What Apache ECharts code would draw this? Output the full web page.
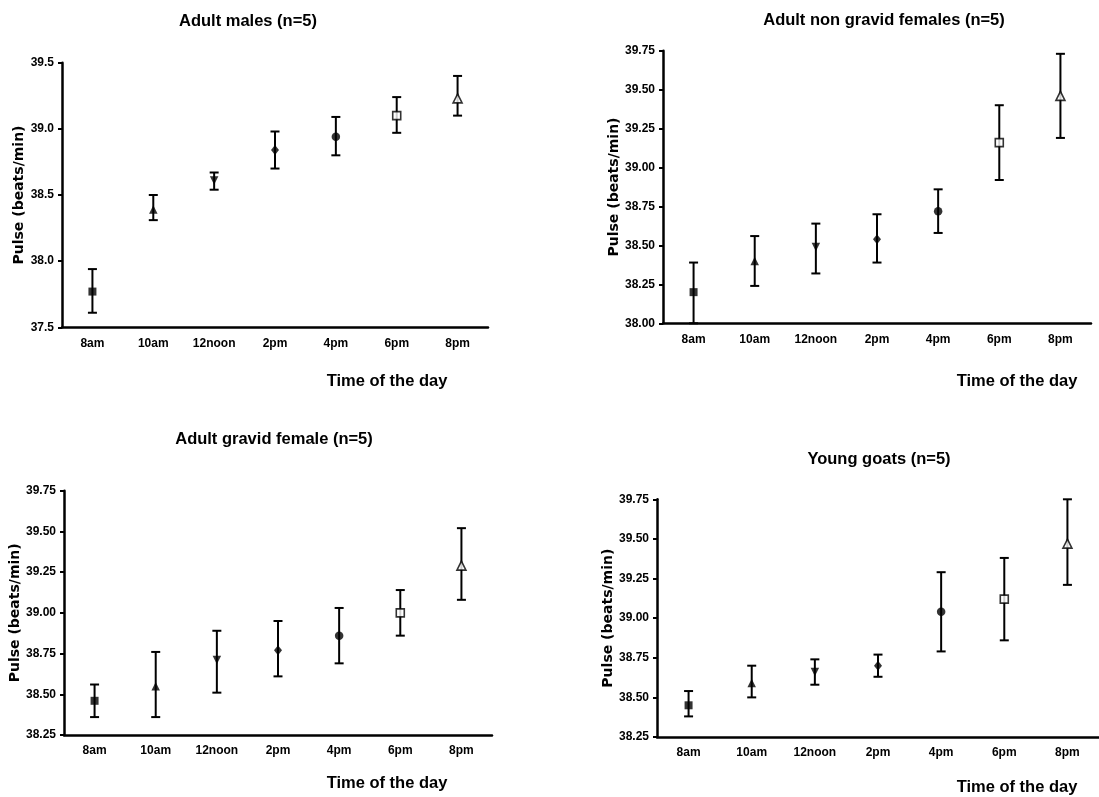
<!DOCTYPE html>
<html>
<head>
<meta charset="utf-8">
<script src="https://cdn.jsdelivr.net/npm/echarts@6/dist/echarts.min.js"></script>
<style>
html,body{margin:0;padding:0;background:#fff;}
#chart{width:1099px;height:797px;}
</style>
</head>
<body>
<div id="chart"></div>
<script>
// ---- data ----
const categories = ['8am', '10am', '12noon', '2pm', '4pm', '6pm', '8pm'];
const panelTitles = ['Adult males (n=5)', 'Adult non gravid females (n=5)', 'Adult gravid female (n=5)', 'Young goats (n=5)'];
const xAxisName = 'Time of the day';
const yAxisName = 'Pulse (beats/min)';

const malesMean  = [37.77, 38.39, 38.61, 38.84, 38.94, 39.10, 39.23];
const malesUpper = [37.94, 38.50, 38.67, 38.98, 39.09, 39.24, 39.40];
const malesLower = [37.61, 38.31, 38.54, 38.70, 38.80, 38.97, 39.10];

const nonGravidMean  = [38.20, 38.40, 38.49, 38.54, 38.72, 39.16, 39.46];
const nonGravidUpper = [38.39, 38.56, 38.64, 38.70, 38.86, 39.40, 39.73];
const nonGravidLower = [38.00, 38.24, 38.32, 38.39, 38.58, 38.92, 39.19];

const gravidMean  = [38.46, 38.55, 38.71, 38.77, 38.86, 39.00, 39.29];
const gravidUpper = [38.56, 38.76, 38.89, 38.95, 39.03, 39.14, 39.52];
const gravidLower = [38.36, 38.36, 38.51, 38.61, 38.69, 38.86, 39.08];

const youngMean  = [38.45, 38.59, 38.66, 38.70, 39.04, 39.12, 39.47];
const youngUpper = [38.54, 38.70, 38.74, 38.77, 39.29, 39.38, 39.75];
const youngLower = [38.38, 38.50, 38.58, 38.63, 38.79, 38.86, 39.21];

// y-axis scales (min, max, interval, decimals)
const yMin = [37.5, 38.0, 38.25, 38.25];
const yMax = [39.5, 39.75, 39.75, 39.75];
const yInterval = [0.5, 0.25, 0.25, 0.25];
const yDecimals = [1, 2, 2, 2];

// ---- layout / style ----
const FONT = '"Liberation Sans", Arial, sans-serif';
const NAMEFONT = '"DejaVu Sans", sans-serif';
const grids = [
  {left: 62, top: 62.7, width: 426, height: 264.6},
  {left: 663, top: 50.7, width: 428, height: 272.6},
  {left: 64, top: 490.7, width: 428, height: 244.3},
  {left: 657, top: 499.3, width: 454, height: 237.7}
];
const yNameGap = [35, 39, 38, 42];
const titlePos = [[248, 21], [884, 20], [274, 439], [879, 459]];
const xNamePos = [[387, 381], [1017, 381], [387, 783], [1017, 787]];

const markerStyles = [
  {symbol: 'rect', size: 8, fill: '#000', rot: 0},
  {symbol: 'triangle', size: 8.5, fill: '#000', rot: 0},
  {symbol: 'triangle', size: 8.5, fill: '#000', rot: 180},
  {symbol: 'diamond', size: [8, 10], fill: '#000', rot: 0},
  {symbol: 'circle', size: 8.5, fill: '#000', rot: 0},
  {symbol: 'rect', size: 8, fill: '#fff', rot: 0},
  {symbol: 'triangle', size: 9, fill: '#fff', rot: 0}
];

const panels = [
  [malesMean, malesUpper, malesLower],
  [nonGravidMean, nonGravidUpper, nonGravidLower],
  [gravidMean, gravidUpper, gravidLower],
  [youngMean, youngUpper, youngLower]
];

const xAxes = [], yAxes = [], series = [], graphics = [];
panels.forEach((p, i) => {
  xAxes.push({
    type: 'category', gridIndex: i, data: categories, boundaryGap: true,
    axisLine: {lineStyle: {color: '#000', width: 2.5}},
    axisTick: {show: false},
    axisLabel: {color: '#000', fontFamily: FONT, fontWeight: 'bold', fontSize: 12, margin: 10, interval: 0},
    splitLine: {show: false}
  });
  yAxes.push({
    type: 'value', gridIndex: i, min: yMin[i], max: yMax[i], interval: yInterval[i],
    name: yAxisName, nameLocation: 'middle', nameGap: yNameGap[i], nameRotate: 90,
    nameTextStyle: {color: '#000', fontFamily: NAMEFONT, fontWeight: 'bold', fontSize: 14},
    axisLine: {show: true, lineStyle: {color: '#000', width: 2.5}},
    axisTick: {show: true, length: 4, lineStyle: {color: '#000', width: 2}},
    axisLabel: {color: '#000', fontFamily: FONT, fontWeight: 'bold', fontSize: 12, margin: 8,
      formatter: v => v.toFixed(yDecimals[i])},
    splitLine: {show: false}
  });
  const [mean, upper, lower] = p;
  series.push({
    type: 'custom', xAxisIndex: i, yAxisIndex: i, clip: false, z: 2,
    data: categories.map((c, k) => [k, lower[k], upper[k]]),
    renderItem: function (params, api) {
      const x = api.value(0);
      const lo = api.coord([x, api.value(1)]);
      const hi = api.coord([x, api.value(2)]);
      const hw = 4.5;
      const st = {stroke: '#000', lineWidth: 2};
      return {
        type: 'group',
        children: [
          {type: 'line', shape: {x1: lo[0], y1: lo[1], x2: hi[0], y2: hi[1]}, style: st},
          {type: 'line', shape: {x1: hi[0] - hw, y1: hi[1], x2: hi[0] + hw, y2: hi[1]}, style: st},
          {type: 'line', shape: {x1: lo[0] - hw, y1: lo[1], x2: lo[0] + hw, y2: lo[1]}, style: st}
        ]
      };
    }
  });
  series.push({
    type: 'scatter', xAxisIndex: i, yAxisIndex: i, z: 3, clip: false,
    data: mean.map((v, k) => ({
      value: [k, v],
      symbol: markerStyles[k].symbol,
      symbolSize: markerStyles[k].size,
      symbolRotate: markerStyles[k].rot,
      itemStyle: {color: markerStyles[k].fill, borderColor: '#000', borderWidth: markerStyles[k].fill === '#fff' ? 1.6 : 0}
    }))
  });
  graphics.push({
    type: 'text', x: titlePos[i][0], y: titlePos[i][1],
    style: {text: panelTitles[i], fill: '#000', font: 'bold 16.5px ' + FONT, textAlign: 'center', textVerticalAlign: 'middle'}
  });
  graphics.push({
    type: 'text', x: xNamePos[i][0], y: xNamePos[i][1],
    style: {text: xAxisName, fill: '#000', font: 'bold 16.5px ' + FONT, textAlign: 'center', textVerticalAlign: 'middle'}
  });
});

const chart = echarts.init(document.getElementById('chart'), null, {renderer: 'canvas'});
chart.setOption({
  backgroundColor: '#fff',
  animation: false,
  grid: grids,
  xAxis: xAxes,
  yAxis: yAxes,
  series: series,
  graphic: graphics
});
</script>
</body>
</html>
